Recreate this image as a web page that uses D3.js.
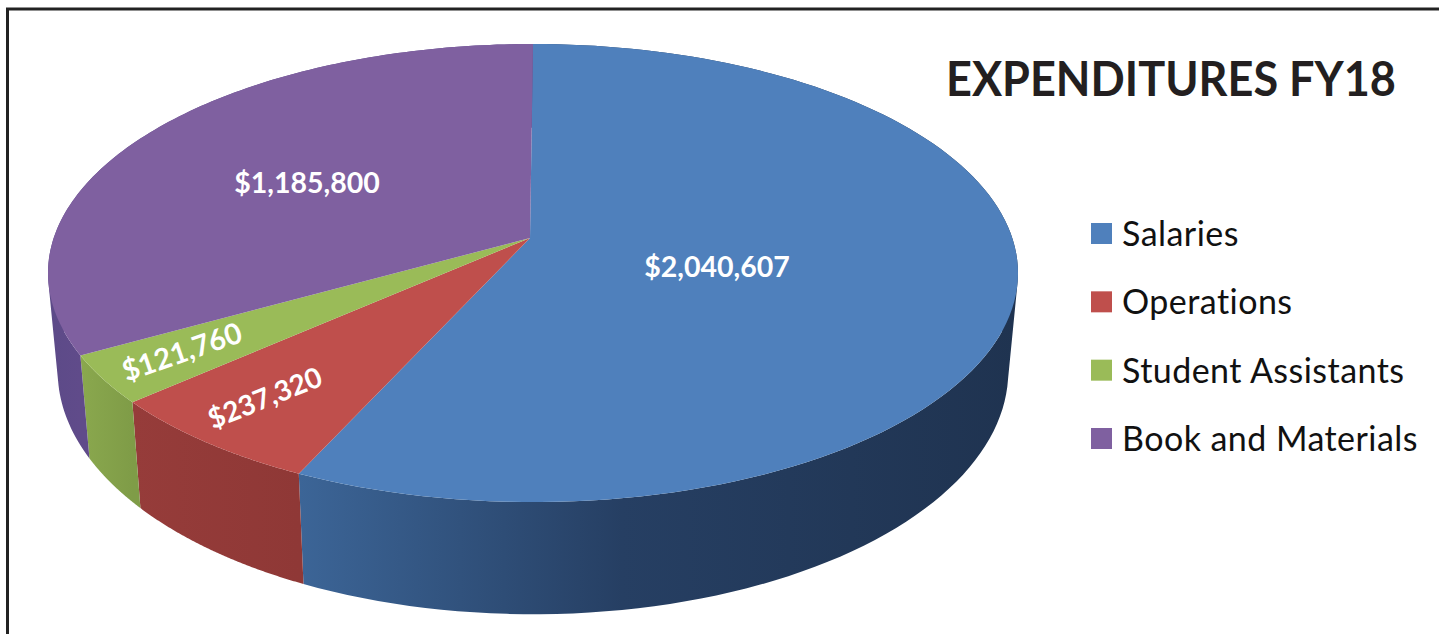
<!DOCTYPE html>
<html>
<head>
<meta charset="utf-8">
<script src="https://cdn.jsdelivr.net/npm/d3@7"></script>
<style>
  html, body { margin: 0; padding: 0; background: #fff; overflow: hidden; }
  text { font-family: Lato, "Open Sans", sans-serif; }
</style>
</head>
<body>
<div id="chart"></div>
<script>
// data
const categories = ["Salaries", "Operations", "Student Assistants", "Book and Materials"];
const amounts = [2040607, 237320, 121760, 1185800];
const chartTitle = "EXPENDITURES FY18";

// look
const topColors = ["#4f80bc", "#bf4f4c", "#9abb58", "#7f60a0"];
const sideStops = [
    [[0, "#3c6597"], [0.45, "#263f63"], [1, "#1f3350"]],
    [[0, "#963c3a"], [1, "#8f3836"]],
    [[0, "#8aa84e"], [1, "#7f9c47"]],
    [[0, "#5c4a88"], [1, "#604b8a"]]
];

const width = 1439, height = 634;

// tilted disc, near edge drawn bigger than the far one
const disc = {cx: 533, cy: 238, a: 479.3, b: 223.7, k: 0.153, apexX: 530};
// bottom rim of the pie relative to the top face
const rim = {sx: 0.98, sy: 1.062, dy: 81};

const project = (angle) => {
    const x = Math.sin(angle), y = -Math.cos(angle);
    const w = 1 - disc.k * y;
    return [disc.cx + disc.a * x / w, disc.cy + disc.b * y / w];
};
const lower = ([x, y]) => [disc.cx + rim.sx * (x - disc.cx), y * rim.sy + rim.dy];

const color = d3.scaleOrdinal(categories, topColors);
const money = d3.format("$,");
const line = d3.line();

const slices = d3.pie().sort(null).value(d => d)(amounts);

const svg = d3.select("#chart").append("svg")
    .attr("width", width)
    .attr("height", height)
    .style("display", "block");

// frame, open on the right and at the bottom
svg.append("path")
    .attr("d", line([[7.5, height], [7.5, 9], [width, 9]]))
    .attr("fill", "none")
    .attr("stroke", "#222")
    .attr("stroke-width", 3);

const arcSteps = (a0, a1) => d3.range(0, 121).map(i => a0 + (a1 - a0) * i / 120);

// side wall gradients, one per slice
const defs = svg.append("defs");
slices.forEach((s, i) => {
    const visible = arcSteps(s.startAngle, s.endAngle).map(project).filter(p => p[1] > 260);
    const grad = defs.append("linearGradient")
        .attr("id", "side" + i)
        .attr("gradientUnits", "userSpaceOnUse")
        .attr("x1", d3.min(visible, p => p[0]))
        .attr("x2", d3.max(visible, p => p[0]))
        .attr("y1", 0).attr("y2", 0);
    sideStops[i].forEach(([o, c]) => grad.append("stop").attr("offset", o).attr("stop-color", c));
});

// side walls: one path of small quads, all wound the same way, so no seams
const wallPath = s => d3.pairs(arcSteps(s.startAngle, s.endAngle)).map(([a0, a1]) => {
    const p0 = project(a0), p1 = project(a1);
    const quad = [p0, p1, lower(p1), lower(p0)];
    if (d3.polygonArea(quad) < 0) quad.reverse();
    return line(quad) + "Z";
}).join("");

svg.append("g").selectAll("path")
    .data(slices)
    .join("path")
    .attr("d", wallPath)
    .attr("fill", (s, i) => `url(#side${i})`);

// top face
svg.append("g").selectAll("path")
    .data(slices)
    .join("path")
    .attr("d", s => line([[disc.apexX, disc.cy], ...arcSteps(s.startAngle, s.endAngle).map(project)]) + "Z")
    .attr("fill", (s, i) => color(categories[i]));

// value labels
const labelPlace = [
    {x: 717, y: 267, rotate: 0},
    {x: 265, y: 398, rotate: -22},
    {x: 182, y: 352, rotate: -19},
    {x: 307, y: 183, rotate: 0}
];
svg.append("g").selectAll("text")
    .data(amounts)
    .join("text")
    .attr("transform", (d, i) => `translate(${labelPlace[i].x},${labelPlace[i].y}) rotate(${labelPlace[i].rotate})`)
    .attr("dy", "0.35em")
    .attr("text-anchor", "middle")
    .attr("fill", "#fff")
    .attr("font-weight", 700)
    .attr("font-size", (d, i) => i === 1 ? 28 : i === 2 ? 29 : 28.5)
    .text(d => money(d));

// title
svg.append("text")
    .attr("x", 946)
    .attr("y", 96)
    .attr("fill", "#231f20")
    .attr("font-weight", 700)
    .attr("font-size", 48)
    .attr("textLength", 450)
    .attr("lengthAdjust", "spacingAndGlyphs")
    .text(chartTitle);

// legend
const legendY = d3.scalePoint().domain(categories).range([234, 439]);
const legend = svg.append("g").selectAll("g")
    .data(categories)
    .join("g")
    .attr("transform", d => `translate(1091,${legendY(d)})`);
legend.append("rect")
    .attr("y", -11)
    .attr("width", 21)
    .attr("height", 21)
    .attr("fill", d => color(d));
legend.append("text")
    .attr("x", 31)
    .attr("dy", "0.35em")
    .attr("fill", "#111")
    .attr("font-size", 34)
    .attr("letter-spacing", 0.45)
    .text(d => d);
</script>
</body>
</html>
